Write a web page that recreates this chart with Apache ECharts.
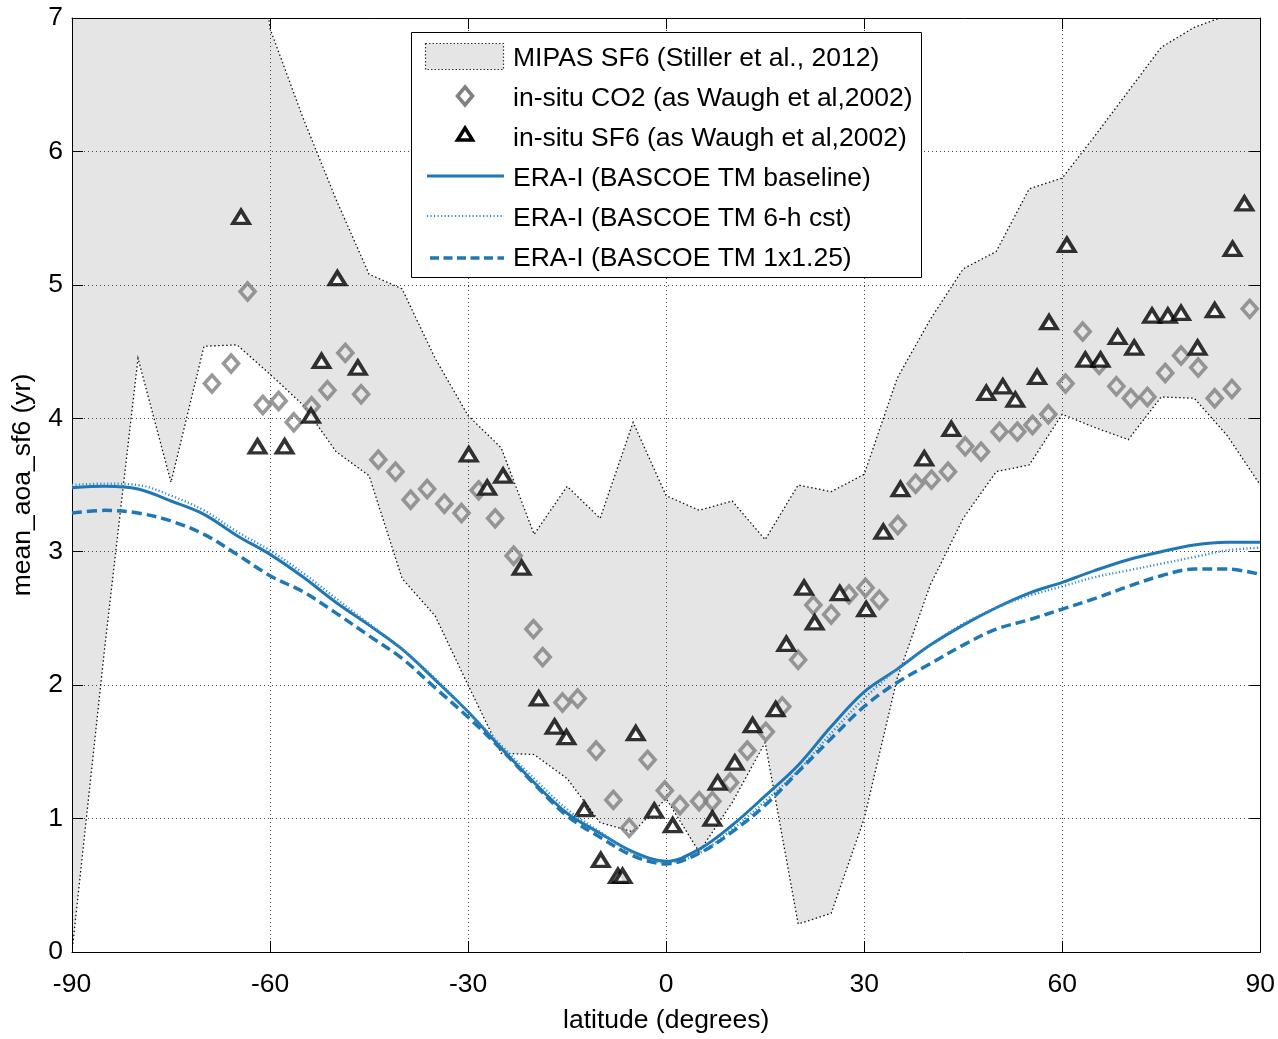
<!DOCTYPE html>
<html>
<head>
<meta charset="utf-8">
<title>Mean age of air</title>
<script src="https://cdn.jsdelivr.net/npm/echarts@6/dist/echarts.min.js"></script>
<style>
  html, body { margin: 0; padding: 0; background: #fff; }
  #chart { width: 1278px; height: 1039px; }
</style>
</head>
<body>
<div id="chart"></div>
<script>
// Latitude grid (degrees) shared by the MIPAS envelope and the model curves
const gridLat = [-90, -85, -80, -75, -70, -65, -60, -55, -50, -45, -40, -35, -30, -25, -20, -15, -10, -5, 0,
                 5, 10, 15, 20, 25, 30, 35, 40, 45, 50, 55, 60, 65, 70, 75, 80, 85, 90];

// MIPAS SF6 envelope (yr): lower and upper bounds
const mipasLower = [0.00, 2.30, 4.45, 3.52, 4.54, 4.55, 4.33, 4.10, 3.75, 3.57, 2.80, 2.52, 2.00, 1.49, 1.48, 1.30,
                    0.97, 0.90, 1.15, 0.75, 1.12, 1.57, 0.21, 0.29, 1.00, 2.05, 2.75, 3.25, 3.60, 3.65, 4.03, 3.93,
                    3.84, 4.16, 4.15, 3.87, 3.50];
const mipasUpper = [9.00, 9.00, 9.00, 9.00, 9.00, 9.00, 6.92, 6.25, 5.64, 5.08, 4.97, 4.45, 4.02, 3.78, 3.13, 3.49,
                    3.25, 3.97, 3.42, 3.31, 3.38, 3.09, 3.50, 3.45, 3.58, 4.30, 4.74, 5.12, 5.25, 5.72, 5.80, 6.12,
                    6.45, 6.78, 6.93, 7.02, 7.12];

// ERA-Interim driven BASCOE TM runs (yr)
const eraBaseline = [3.48, 3.49, 3.47, 3.38, 3.28, 3.12, 2.98, 2.81, 2.62, 2.45, 2.27, 2.04, 1.80, 1.53, 1.27, 1.04,
                     0.89, 0.75, 0.68, 0.77, 0.95, 1.17, 1.40, 1.69, 1.95, 2.12, 2.30, 2.45, 2.58, 2.69, 2.77, 2.86,
                     2.94, 3.00, 3.05, 3.07, 3.07];
const era6h = [3.50, 3.51, 3.50, 3.42, 3.31, 3.15, 3.01, 2.84, 2.65, 2.46, 2.27, 2.05, 1.80, 1.55, 1.30, 1.07,
               0.90, 0.74, 0.67, 0.74, 0.92, 1.13, 1.36, 1.64, 1.90, 2.12, 2.30, 2.46, 2.58, 2.67, 2.74, 2.81,
               2.86, 2.91, 2.96, 3.01, 3.03];
const era1x125 = [3.29, 3.31, 3.29, 3.23, 3.13, 2.98, 2.82, 2.70, 2.54, 2.37, 2.20, 1.98, 1.76, 1.52, 1.26, 1.02,
                  0.86, 0.72, 0.66, 0.74, 0.90, 1.10, 1.35, 1.60, 1.84, 2.02, 2.16, 2.30, 2.42, 2.49, 2.57, 2.65,
                  2.74, 2.82, 2.87, 2.87, 2.83];

// In-situ CO2 mean age (as Waugh et al, 2002)
const co2Lat = [-68.8, -65.9, -63.4, -61.1, -58.7, -56.4, -53.7, -51.3, -48.6, -46.2, -43.6, -41.0, -38.7, -36.2,
                -33.6, -31.0, -28.4, -25.9, -23.1, -20.1, -18.7, -15.7, -13.4, -10.6, -8.0, -5.6, -2.8, -0.2,
                2.1, 5.0, 7.0, 9.7, 12.3, 15.1, 17.6, 20.0, 22.3, 25.0, 27.7, 30.2, 32.3, 35.1, 37.8, 40.2,
                42.7, 45.3, 47.7, 50.5, 53.2, 55.5, 57.9, 60.5, 63.1, 65.6, 68.2, 70.4, 72.9, 75.6, 78.0, 80.6,
                83.1, 85.7, 88.4];
const co2Age = [4.26, 4.41, 4.95, 4.10, 4.13, 3.97, 4.09, 4.21, 4.49, 4.18, 3.69, 3.60, 3.39, 3.47,
                3.36, 3.29, 3.46, 3.25, 2.97, 2.42, 2.21, 1.87, 1.90, 1.51, 1.14, 0.93, 1.44, 1.21,
                1.10, 1.13, 1.13, 1.27, 1.51, 1.65, 1.84, 2.19, 2.60, 2.53, 2.68, 2.73, 2.64, 3.20, 3.51, 3.54,
                3.60, 3.79, 3.75, 3.90, 3.90, 3.95, 4.03, 4.26, 4.65, 4.40, 4.24, 4.15, 4.16, 4.34, 4.47, 4.38,
                4.15, 4.22, 4.82];

// In-situ SF6 mean age (as Waugh et al, 2002)
const sf6Lat = [-64.4, -61.9, -57.8, -53.8, -52.2, -49.8, -46.7, -29.9, -27.1, -24.7, -21.9, -19.3, -16.9, -15.1,
                -12.4, -9.9, -7.3, -6.6, -4.6, -1.8, 1.0, 7.0, 7.8, 10.4, 13.1, 16.6, 18.2, 20.9, 22.5, 26.3,
                30.3, 32.9, 35.5, 39.1, 43.2, 48.5, 51.0, 52.9, 56.2, 58.0, 60.7, 63.5, 65.8, 68.4, 70.9, 73.6,
                76.0, 78.0, 80.5, 83.1, 85.8, 87.6];
const sf6Age = [5.51, 3.79, 3.79, 4.02, 4.43, 5.05, 4.38, 3.73, 3.48, 3.57, 2.88, 1.90, 1.69, 1.61,
                1.07, 0.69, 0.57, 0.57, 1.64, 1.06, 0.95, 1.00, 1.27, 1.42, 1.70, 1.82, 2.31, 2.73, 2.47, 2.69,
                2.57, 3.15, 3.47, 3.70, 3.92, 4.19, 4.24, 4.14, 4.31, 4.72, 5.30, 4.44, 4.44, 4.61, 4.53, 4.77,
                4.77, 4.79, 4.53, 4.81, 5.27, 5.61];

const xTicks = [-90, -60, -30, 0, 30, 60, 90];
const yTicks = [0, 1, 2, 3, 4, 5, 6, 7];

const legendLabels = [
  'MIPAS SF6 (Stiller et al., 2012)',
  'in-situ CO2 (as Waugh et al,2002)',
  'in-situ SF6 (as Waugh et al,2002)',
  'ERA-I (BASCOE TM baseline)',
  'ERA-I (BASCOE TM 6-h cst)',
  'ERA-I (BASCOE TM 1x1.25)'
];

const FONT = '"Liberation Sans", Arial, Helvetica, sans-serif';
const FS = 26.5;
const BLUE = '#1f77b4';
const BAND_EDGE = { stroke: '#111', lineWidth: 1.3, lineDash: [1.5, 2.5], fill: null };
const zip = (a, b) => a.map((v, i) => [v, b[i]]);

const chart = echarts.init(document.getElementById('chart'), null, { renderer: 'canvas' });

const gridDots = { show: true, lineStyle: { color: '#444', width: 1, type: [1, 3] } };
const frameLine = { show: true, onZero: false, lineStyle: { color: '#000', width: 1 } };
const inTick = { show: true, inside: true, length: 11, lineStyle: { color: '#000', width: 1 } };

// Legend box drawn as graphic elements
const legendY = [59, 99, 139, 179, 219, 259];
const legendGraphics = [
  { type: 'rect', shape: { x: 411.5, y: 32.5, width: 510, height: 245 },
    style: { fill: '#fff', stroke: '#000', lineWidth: 1 } },
  { type: 'rect', shape: { x: 425.5, y: 43.5, width: 78, height: 26 },
    style: { fill: '#e5e5e5', stroke: '#333', lineWidth: 1.2, lineDash: [1.5, 2] } },
  { type: 'polygon', shape: { points: [[465, 87], [472.5, 96], [465, 105], [457.5, 96]] },
    style: { fill: 'none', stroke: '#808080', lineWidth: 3.6 } },
  { type: 'polygon', shape: { points: [[465, 128], [472.5, 140], [457.5, 140]] },
    style: { fill: '#fff', stroke: '#000', lineWidth: 3.5 } },
  { type: 'line', shape: { x1: 427, y1: 176, x2: 504, y2: 176 },
    style: { stroke: BLUE, lineWidth: 3 } },
  { type: 'line', shape: { x1: 427, y1: 216, x2: 504, y2: 216 },
    style: { stroke: '#3a8cc8', lineWidth: 2.2, lineDash: [1.2, 2.3] } },
  { type: 'line', shape: { x1: 430, y1: 258, x2: 504, y2: 258 },
    style: { stroke: BLUE, lineWidth: 3.5, lineDash: [9, 4.5] } }
];
legendLabels.forEach((t, i) => {
  legendGraphics.push({
    type: 'text', x: 513, y: legendY[i],
    style: { text: t, fill: '#000', font: FS + 'px ' + FONT, verticalAlign: 'middle', align: 'left' }
  });
});
legendGraphics.forEach(g => { g.z = 100; g.zlevel = 1; });

// MIPAS range as a filled polygon between both envelopes, clipped to the plot area
function renderBand(params, api) {
  const up = gridLat.map((x, i) => api.coord([x, mipasUpper[i]]));
  const lo = gridLat.map((x, i) => api.coord([x, mipasLower[i]]));
  const cs = params.coordSys;
  return {
    type: 'group',
    clipPath: { type: 'rect', shape: { x: cs.x, y: cs.y, width: cs.width, height: cs.height } },
    children: [
      { type: 'polygon', shape: { points: up.concat(lo.slice().reverse()) },
        style: { fill: '#e5e5e5', stroke: null } },
      { type: 'polyline', shape: { points: up }, style: BAND_EDGE },
      { type: 'polyline', shape: { points: lo }, style: BAND_EDGE }
    ]
  };
}

const option = {
  animation: false,
  backgroundColor: '#fff',
  grid: { left: 72, top: 18, right: 16, bottom: 81 },
  xAxis: [
    {
      type: 'value', position: 'bottom', min: -90, max: 90, interval: 30, z: 3,
      name: 'latitude (degrees)', nameLocation: 'middle', nameGap: 55,
      nameTextStyle: { fontFamily: FONT, fontSize: FS, color: '#000' },
      axisLine: frameLine, axisTick: inTick, splitLine: gridDots,
      axisLabel: { fontFamily: FONT, fontSize: FS, color: '#000', margin: 19,
                   formatter: v => (xTicks.includes(v) ? String(v) : '') }
    },
    {
      type: 'value', position: 'top', min: -90, max: 90, interval: 30, z: 3,
      axisLine: frameLine, axisTick: inTick, axisLabel: { show: false }, splitLine: { show: false }
    }
  ],
  yAxis: [
    {
      type: 'value', position: 'left', min: 0, max: 7, interval: 1, z: 3,
      name: 'mean_aoa_sf6 (yr)', nameLocation: 'middle', nameGap: 36, nameRotate: 90,
      nameTextStyle: { fontFamily: FONT, fontSize: FS, color: '#000' },
      axisLine: frameLine, axisTick: inTick, splitLine: gridDots,
      axisLabel: { fontFamily: FONT, fontSize: FS, color: '#000', margin: 9,
                   formatter: v => (yTicks.includes(v) ? String(v) : '') }
    },
    {
      type: 'value', position: 'right', min: 0, max: 7, interval: 1, z: 3,
      axisLine: frameLine, axisTick: inTick, axisLabel: { show: false }, splitLine: { show: false }
    }
  ],
  series: [
    {
      name: legendLabels[0], type: 'custom', z: 1, silent: true, clip: true,
      data: [0], renderItem: renderBand
    },
    {
      name: legendLabels[1], type: 'scatter', z: 5,
      data: zip(co2Lat, co2Age), symbol: 'diamond', symbolSize: [15, 17],
      itemStyle: { color: 'rgba(0,0,0,0)', borderColor: '#808080', borderWidth: 3.6 }
    },
    {
      name: legendLabels[2], type: 'scatter', z: 6,
      data: zip(sf6Lat, sf6Age), symbol: 'triangle', symbolSize: [16, 13],
      itemStyle: { color: '#fff', borderColor: '#000', borderWidth: 3.6 }
    },
    {
      name: legendLabels[3], type: 'line', z: 7, smooth: 0.35,
      data: zip(gridLat, eraBaseline), symbol: 'none',
      lineStyle: { color: BLUE, width: 3 }
    },
    {
      name: legendLabels[4], type: 'line', z: 7, smooth: 0.35,
      data: zip(gridLat, era6h), symbol: 'none',
      lineStyle: { color: '#3a8cc8', width: 2.4, type: [1.2, 2.3] }
    },
    {
      name: legendLabels[5], type: 'line', z: 7, smooth: 0.35,
      data: zip(gridLat, era1x125), symbol: 'none',
      lineStyle: { color: BLUE, width: 3.5, type: [10, 5] }
    }
  ],
  graphic: legendGraphics
};

chart.setOption(option);
</script>
</body>
</html>
